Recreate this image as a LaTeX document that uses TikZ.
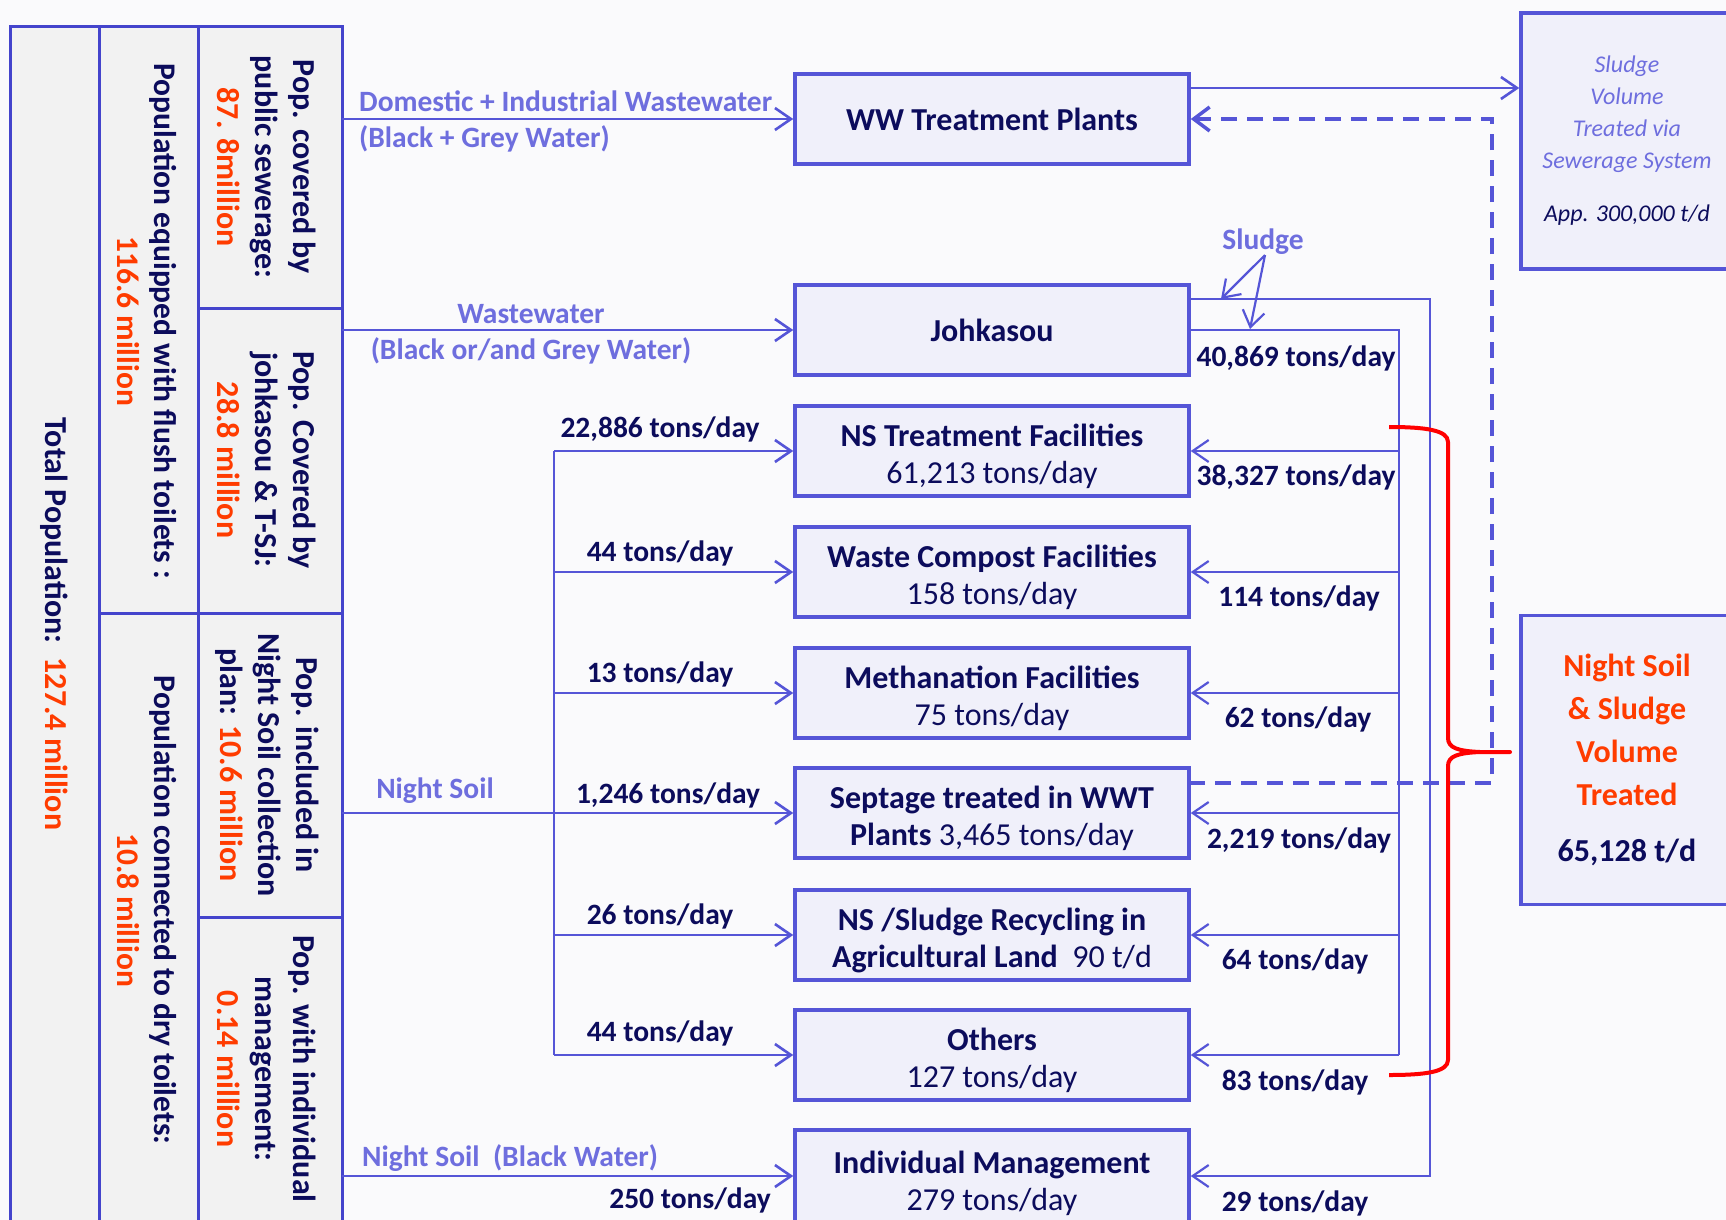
\documentclass[tikz,border=0pt]{standalone}
\usepackage{fontspec}
\setmainfont{Carlito}
\usetikzlibrary{arrows.meta}
\definecolor{lineblue}{RGB}{85,85,215}
\definecolor{framecol}{RGB}{68,68,204}
\definecolor{boxfill}{RGB}{240,240,250}
\definecolor{dnavy}{RGB}{12,12,92}
\definecolor{lblue}{RGB}{110,110,222}
\definecolor{myorange}{RGB}{255,60,0}
\definecolor{greyfill}{RGB}{242,242,242}
\definecolor{bgcol}{RGB}{250,250,252}
\newcommand\tstrut{\rule{0pt}{34pt}}
\tikzset{
  conn/.style={draw=lineblue, line width=2.6pt, -{Straight Barb[length=16pt,width=22pt]}},
  connr/.style={draw=lineblue, line width=2.2pt, -{Straight Barb[length=16pt,width=22pt]}},
  plainline/.style={draw=lineblue, line width=2.2pt},
  fbox/.style={draw=lineblue, line width=3.5pt, fill=boxfill, minimum width=394pt, minimum height=90pt, inner sep=0pt, align=center, text=dnavy, font=\fontsize{32}{37}\selectfont\bfseries},
  bigbox/.style={draw=lineblue, line width=3.5pt, fill=boxfill, minimum width=212pt, inner sep=0pt, align=center},
  qty/.style={text=dnavy, font=\fontsize{29.5}{35}\selectfont\bfseries, inner sep=0pt},
  flow/.style={text=lblue, font=\fontsize{29.5}{35}\selectfont\bfseries, inner sep=0pt},
  rot/.style={rotate=-90, align=center, text=dnavy, font=\fontsize{32}{38}\selectfont\bfseries, inner sep=0pt},
}
\begin{document}
\begin{tikzpicture}[x=1pt,y=-1pt]
\clip (0,0) rectangle (1726,1220);
\fill[bgcol] (0,0) rectangle (1726,1220);
% left structure
\fill[greyfill] (10,27) rectangle (342,1240);
\draw[framecol, line width=3pt] (10,1240) -- (10,27) -- (342,27) -- (342,1240);
\draw[framecol, line width=3pt] (99,27) -- (99,1240) (198,27) -- (198,1240);
\draw[framecol, line width=3pt] (99,613) -- (198,613) (198,308) -- (342,308) (198,613) -- (342,613) (198,917) -- (342,917);
\node[rot] (tp) at (54,624) {Total Population:\ \ \textcolor{myorange}{127.4 million}};
\node[rot, font=\fontsize{31.5}{37}\selectfont\bfseries] (pf) at (147,321) {Population equipped with flush toilets :\\\textcolor{myorange}{116.6 million}};
\node[rot, font=\fontsize{31.5}{37}\selectfont\bfseries] (pd) at (147,910) {Population connected to dry toilets:\\\textcolor{myorange}{10.8 million}};
\node[rot] (ps) at (267,167) {Pop. covered by\\public sewerage:\\\textcolor{myorange}{87. 8million}};
\node[rot] (pj) at (267,460) {Pop. Covered by\\johkasou \& T-SJ:\\\textcolor{myorange}{28.8 million}};
\node[rot] (pn) at (267,765) {Pop. included in\\Night Soil collection\\plan: \textcolor{myorange}{10.6 million}};
\node[rot] (pi) at (267,1069) {Pop. with individual\\management:\\\textcolor{myorange}{0.14 million}};
% boxes
\node[fbox] (ww) at (992,119) {WW Treatment Plants};
\node[fbox] (jk) at (992,330) {Johkasou};
\node[fbox] (nst) at (992,451) {\tstrut NS Treatment Facilities\\{\mdseries 61,213 tons/day}};
\node[fbox] (wc) at (992,572) {\tstrut Waste Compost Facilities\\{\mdseries 158 tons/day}};
\node[fbox] (meth) at (992,693) {\tstrut Methanation Facilities\\{\mdseries 75 tons/day}};
\node[fbox] (sep) at (992,813) {\tstrut Septage treated in WWT\\Plants {\mdseries 3,465 tons/day}};
\node[fbox] (agr) at (992,935) {\tstrut NS /Sludge Recycling in\\Agricultural Land\ \ {\mdseries 90 t/d}};
\node[fbox] (oth) at (992,1055) {\tstrut Others\\{\mdseries 127 tons/day}};
\node[fbox, minimum height=96pt] (ind) at (992,1178) {\tstrut Individual Management\\{\mdseries 279 tons/day}};
\node[bigbox, minimum height=256pt, font=\fontsize{24}{32}\selectfont\itshape, text=lblue] (svb) at (1627,141) {Sludge\\Volume\\Treated via\\Sewerage System\\[21pt]\textcolor{dnavy}{App. 300,000 t/d}};
\node[bigbox, minimum height=289pt, font=\fontsize{32}{43}\selectfont\bfseries, text=myorange] (nsb) at (1627,760) {Night Soil\\\& Sludge\\Volume\\Treated\\[13pt]\textcolor{dnavy}{65,128 t/d}};
% left connectors
\coordinate (o1) at (342,119);
\coordinate (o2) at (342,330);
\coordinate (o3) at (342,813);
\coordinate (o4) at (342,1176);
\coordinate (tk) at (554,0);
\draw[conn] (o1) -- (ww.west);
\draw[conn] (o2) -- (jk.west);
\draw[conn] (o3) -- (sep.west);
\draw[conn] (o4) -- (ind.west |- o4);
\draw[draw=lineblue, line width=2.6pt] (tk |- nst.west) -- (tk |- oth.west);
\foreach \b in {nst,wc,meth,agr,oth} \draw[conn] (tk |- \b.west) -- (\b.west);
% right connectors
\coordinate (ri) at (1399,0);
\coordinate (ro) at (1430,0);
\coordinate (jko) at (1189,299);
\draw[plainline] (jk.east) -- (ri |- jk.east) -- (ri |- oth.east);
\foreach \b in {nst,wc,meth,sep,agr,oth} \draw[connr] (ri |- \b.east) -- (\b.east);
\draw[connr] (jko) -- (ro |- jko) -- (ro |- o4) -- (ind.east |- o4);
% sludge label
\node[flow] (sl) at (1263,242) {Sludge};
\coordinate (sla) at (1221,299);
\coordinate (slb) at (1250,329);
\draw[connr] ([xshift=2pt]sl.south) -- (sla);
\draw[connr] ([xshift=2pt]sl.south) -- (slb);
% ww to sludge volume box
\coordinate (h88) at (0,88);
\draw[conn] (ww.east |- h88) -- (svb.west |- h88);
% dashed return
\coordinate (dsp) at (1189,783);
\coordinate (dx) at (1492,0);
\draw[lineblue, line width=3.5pt, dash pattern=on 16pt off 10pt, -{Straight Barb[length=16pt,width=24pt]}] (dsp) -- (dx |- dsp) -- (dx |- ww.east) -- (ww.east);
% red brace
\coordinate (bt) at (1389,427);
\coordinate (bb) at (1389,1075);
\coordinate (btip) at (1510,752);
\draw[red, line width=4pt, line join=round] (bt) .. controls (1425,427) and (1448,430) .. (1448,442) -- (1448,738) .. controls (1448,748) and (1458,751) .. (1480,752) -- (btip) -- (1480,752) .. controls (1458,753) and (1448,756) .. (1448,766) -- (1448,1060) .. controls (1448,1072) and (1425,1075) .. (bb);
% flow labels
\node[flow, anchor=west] (f1) at (359,101) {Domestic + Industrial Wastewater};
\node[flow, anchor=west] (f2) at (359,139) {(Black + Grey Water)};
\node[flow] (f3) at (531,314) {Wastewater};
\node[flow] (f4) at (531,351) {(Black or/and Grey Water)};
\node[flow] (f5) at (435,791) {Night Soil};
\node[flow, anchor=west] (f6) at (362,1158) {Night Soil\ \ (Black Water)};
% quantities left
\node[qty] (l1) at (660,429) {22,886 tons/day};
\node[qty] (l2) at (660,553) {44 tons/day};
\node[qty] (l3) at (660,674) {13 tons/day};
\node[qty] (l4) at (668,795) {1,246 tons/day};
\node[qty] (l5) at (660,916) {26 tons/day};
\node[qty] (l6) at (660,1033) {44 tons/day};
\node[qty] (l7) at (690,1200) {250 tons/day};
% quantities right
\node[qty] (r0) at (1296,358) {40,869 tons/day};
\node[qty] (r1) at (1296,477) {38,327 tons/day};
\node[qty] (r2) at (1299,598) {114 tons/day};
\node[qty] (r3) at (1298,719) {62 tons/day};
\node[qty] (r4) at (1299,840) {2,219 tons/day};
\node[qty] (r5) at (1295,961) {64 tons/day};
\node[qty] (r6) at (1295,1082) {83 tons/day};
\node[qty] (r7) at (1295,1203) {29 tons/day};
\end{tikzpicture}
\end{document}
